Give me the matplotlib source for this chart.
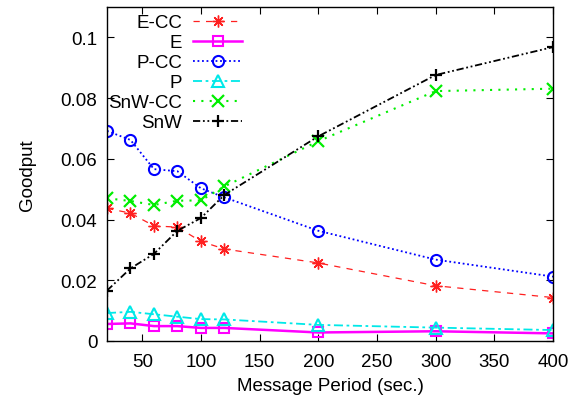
import matplotlib
matplotlib.use("Agg")
import matplotlib.pyplot as plt

plt.rcParams["font.family"] = ["Liberation Sans", "DejaVu Sans"]

# Message period (sec.)
period = [20, 40, 60, 80, 100, 120, 200, 300, 400]

# Goodput per scheme
e_cc = [0.0437, 0.0421, 0.0379, 0.0375, 0.0328, 0.0303, 0.0257, 0.0182, 0.0143]
e = [0.0056, 0.0058, 0.0049, 0.0049, 0.0043, 0.0043, 0.0028, 0.0032, 0.0025]
p_cc = [0.0692, 0.0662, 0.0566, 0.0559, 0.0503, 0.0473, 0.0363, 0.0268, 0.0212]
p = [0.0092, 0.0096, 0.0088, 0.0080, 0.0072, 0.0071, 0.0053, 0.0044, 0.0036]
snw_cc = [0.0470, 0.0461, 0.0448, 0.0462, 0.0463, 0.0509, 0.0658, 0.0823, 0.0831]
snw = [0.0166, 0.0239, 0.0287, 0.0363, 0.0405, 0.0481, 0.0674, 0.0876, 0.0968]

xticks = [50, 100, 150, 200, 250, 300, 350, 400]
yticks = [0, 0.02, 0.04, 0.06, 0.08, 0.1]
ytick_labels = ["0", "0.02", "0.04", "0.06", "0.08", "0.1"]

fs = 13.5

fig = plt.figure(figsize=(5.8, 4.02), dpi=100)
ax = fig.add_axes([0.1845, 0.1493, 0.7689, 0.8308])

ax.plot(period, e_cc, color="#ff2020", linestyle=(0, (5, 5)), linewidth=0.9,
        marker=(8, 2, 0), markersize=8.5, markeredgewidth=1.0, label="E-CC")
ax.plot(period, e, color="#ff00ff", linestyle="-", linewidth=1.8,
        marker="s", markersize=7.5, markerfacecolor="none", markeredgewidth=1.5, label="E")
ax.plot(period, p_cc, color="#0000ff", linestyle=(0, (1, 1.5)), linewidth=1.3,
        marker="o", markersize=8, markerfacecolor="none", markeredgewidth=1.5, label="P-CC")
ax.plot(period, p, color="#00e8e8", linestyle=(0, (5, 2, 1.5, 2)), linewidth=1.3,
        marker="^", markersize=8, markerfacecolor="none", markeredgewidth=1.5, label="P")
ax.plot(period, snw_cc, color="#00ee00", linestyle=(0, (1, 3)), linewidth=1.5,
        marker="x", markersize=8, markeredgewidth=1.6, label="SnW-CC")
ax.plot(period, snw, color="black", linestyle=(0, (4, 1.5, 1, 1.5, 1, 1.5)), linewidth=1.3,
        marker="+", markersize=9, markeredgewidth=1.6, label="SnW")

ax.set_xlim(20, 400)
ax.set_ylim(0, 0.11)
ax.set_xticks(xticks)
ax.set_yticks(yticks)
ax.set_yticklabels(ytick_labels)
ax.tick_params(direction="in", top=True, right=True, length=5, width=0.8,
               labelsize=fs)
ax.tick_params(axis="x", pad=9)
ax.tick_params(axis="y", pad=7)
for s in ax.spines.values():
    s.set_linewidth(1.0)

ax.set_xlabel("Message Period (sec.)", fontsize=fs, labelpad=5)
ax.set_ylabel("Goodput", fontsize=fs, labelpad=18)

leg = ax.legend(loc="upper right", bbox_to_anchor=(0.303, 0.978), frameon=False,
                markerfirst=False, fontsize=fs, handlelength=2.6,
                handletextpad=0.6, labelspacing=0.15, borderaxespad=0.0,
                borderpad=0.0)
for t in leg.get_texts():
    t.set_horizontalalignment("right")
leg._legend_box.align = "right"

fig.savefig("out.png", dpi=100)
